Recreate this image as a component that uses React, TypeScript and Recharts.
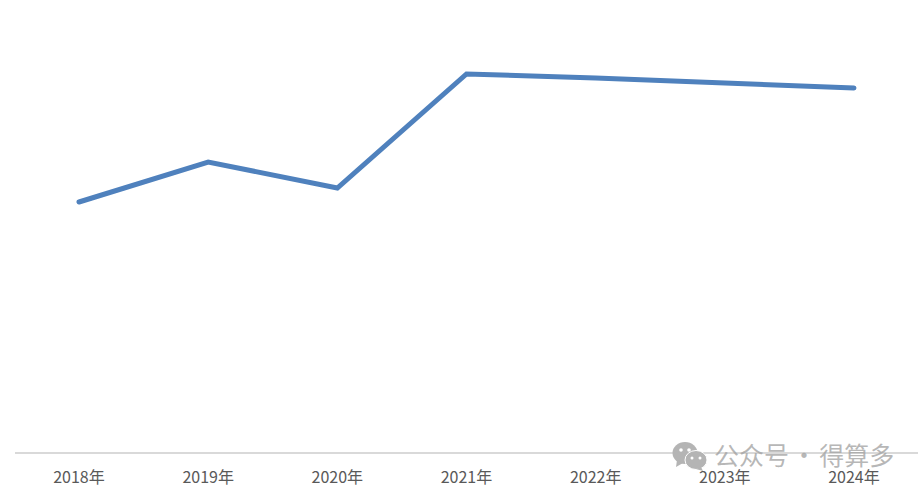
import { Line, LineChart, XAxis, YAxis } from "recharts";

const years = ["2018年", "2019年", "2020年", "2021年", "2022年", "2023年", "2024年"];
const values = [251, 291, 265, 379, 375, 370, 365];

const data = years.map((year, i) => ({ year, value: values[i] }));

function WechatIcon() {
  return (
    <svg width={36} height={30} viewBox="0 0 36 30" style={{ display: "block" }}>
      <ellipse cx={13} cy={12} rx={12.5} ry={11} fill="#b4b4b4" />
      <path d="M5 19 L4 26 L11 22 Z" fill="#b4b4b4" />
      <ellipse cx={24} cy={19} rx={11} ry={9.5} fill="#b4b4b4" stroke="#fff" strokeWidth={1} />
      <path d="M29 26 L31 30 L24 28 Z" fill="#b4b4b4" />
      <circle cx={9} cy={9} r={1.8} fill="#fff" />
      <circle cx={17} cy={9} r={1.8} fill="#fff" />
      <circle cx={20} cy={17} r={1.5} fill="#fff" />
      <circle cx={28} cy={17} r={1.5} fill="#fff" />
    </svg>
  );
}

export default function App() {
  return (
    <div style={{ position: "absolute", left: 0, top: 0, width: 924, height: 493, background: "#fff" }}>
      <LineChart
        width={924}
        height={493}
        data={data}
        margin={{ top: 20, right: 6, bottom: 0, left: 15 }}
      >
        <XAxis
          dataKey="year"
          tickLine={false}
          axisLine={{ stroke: "#d9d9d9", strokeWidth: 2 }}
          interval={0}
          height={40}
          padding={{ left: 64, right: 64 }}
          tick={{ fill: "#595959", fontSize: 16, fontFamily: "'Noto Sans CJK SC', sans-serif" }}
          tickMargin={13}
        />
        <YAxis hide domain={[0, 433]} />
        <Line
          type="linear"
          dataKey="value"
          stroke="#4f81bd"
          strokeWidth={5}
          dot={false}
          strokeLinecap="round"
          isAnimationActive={false}
        />
      </LineChart>
      <div style={{ position: "absolute", left: 672, top: 441 }}>
        <WechatIcon />
      </div>
      <div
        style={{
          position: "absolute",
          left: 714,
          top: 437,
          fontFamily: "'Noto Sans CJK SC', sans-serif",
          fontSize: 25,
          lineHeight: "34px",
          wordSpacing: -3,
          color: "rgba(160,160,160,0.75)",
          whiteSpace: "nowrap",
        }}
      >
        公众号 · 得算多
      </div>
    </div>
  );
}
